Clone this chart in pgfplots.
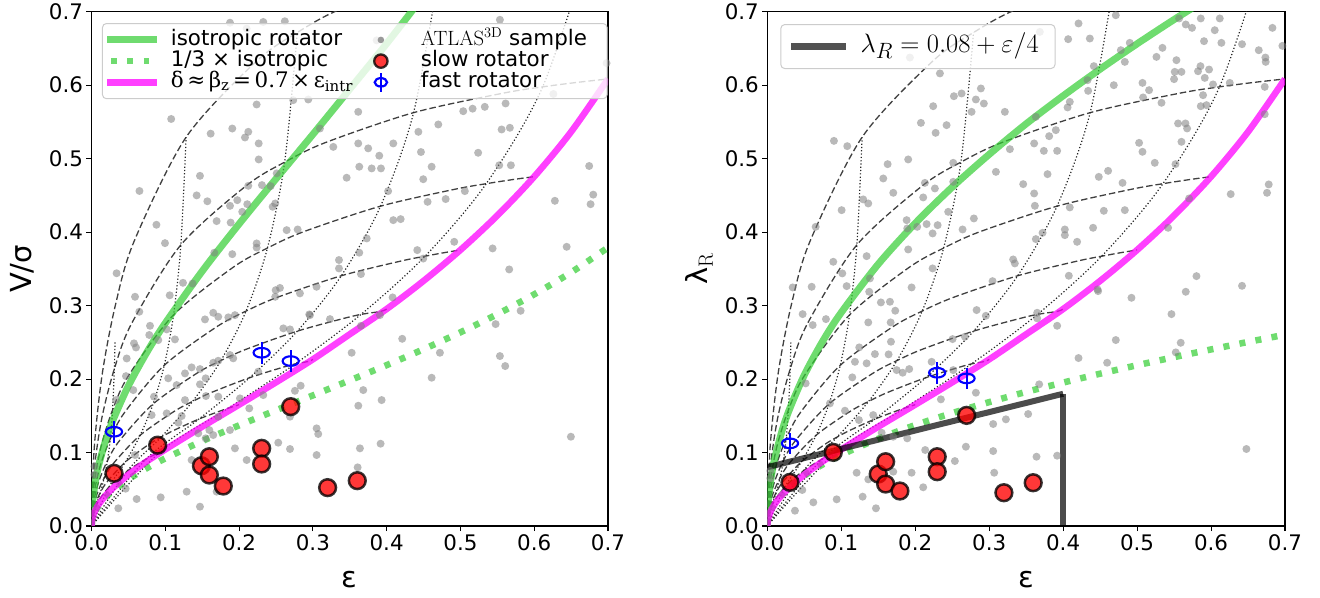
\documentclass[border=0pt]{standalone}
\usepackage[no-math]{fontspec}
\setmainfont{DejaVu Sans}
\newfontfamily\dserif{DejaVu Serif}
\usepackage{graphicx}
\usepackage{pgfplots}
\pgfplotsset{compat=1.18}
\definecolor{isogreen}{RGB}{50,205,50}
\definecolor{mag}{RGB}{255,0,255}
\definecolor{ptgray}{RGB}{128,128,128}

\pgfplotsset{
  myaxis/.style={
    scale only axis, height=514.3bp, anchor=south west,
    xmin=0, xmax=0.7, ymin=0, ymax=0.7,
    xtick={0,0.1,0.2,0.3,0.4,0.5,0.6,0.7},
    ytick={0,0.1,0.2,0.3,0.4,0.5,0.6,0.7},
    xticklabels={0.0,0.1,0.2,0.3,0.4,0.5,0.6,0.7},
    yticklabels={0.0,0.1,0.2,0.3,0.4,0.5,0.6,0.7},
    tick align=outside, tick pos=left, major tick length=5bp,
    every tick/.style={black, line width=1.1bp},
    axis line style={line width=1.1bp},
    ticklabel style={font=\fontsize{21.4bp}{21.4bp}\selectfont},
    label style={font=\fontsize{29bp}{29bp}\selectfont},
    xlabel style={at={(axis description cs:0.5,-0.105)}, anchor=center},
    ylabel style={anchor=center},
    legend cell align=left,
  },
  grayp/.style={ptgray, only marks, mark=*, mark size=4bp, mark options={draw opacity=0, fill=ptgray, fill opacity=0.55}, forget plot},
  dashc/.style={black!75, line width=1.3bp, dash pattern=on 6.5bp off 3bp, smooth, tension=0.5, forget plot},
  dotc/.style={black!85, line width=1.2bp, dash pattern=on 1.2bp off 2.1bp, smooth, tension=0.5, forget plot},
  isoline/.style={isogreen, draw opacity=0.7, line width=7bp, smooth, tension=0.5, forget plot},
  thirdline/.style={isogreen, draw opacity=0.7, line width=6.5bp, dash pattern=on 6bp off 10.3bp, smooth, tension=0.5, forget plot},
  magline/.style={mag, draw opacity=0.75, line width=6.5bp, smooth, tension=0.5, forget plot},
  slowp/.style={only marks, mark=*, mark size=8.4bp, mark options={fill=red, draw=black, line width=2.5bp, opacity=0.78}, forget plot},
  fastp/.style={blue, only marks, mark=o, mark size=4.8bp, mark options={xscale=1.69, line width=2.1bp, blue}, forget plot,
    error bars/.cd, y dir=both, y explicit, error mark=none, error bar style={line width=2bp, blue}},
  blines/.code={
    \addplot[dashc] coordinates {(0,0) (0.003655,0.1054) (0.014578,0.2071) (0.032689,0.3019) (0.057822,0.3877) (0.12822,0.5292) (0.223246,0.6323) (0.27889,0.6717) (0.339203,0.7043) (0.47085,0.7527)};
    \addplot[dashc] coordinates {(0,0) (0.003464,0.0740) (0.013814,0.1459) (0.03096,0.2138) (0.054723,0.2763) (0.12108,0.3826) (0.210059,0.4634) (0.261759,0.4952) (0.317362,0.5220) (0.436529,0.5626) (0.556771,0.5889) (0.611463,0.5977) (0.657458,0.6037) (0.7,0.6085)};
    \addplot[dashc] coordinates {(0,0) (0.003197,0.0543) (0.012744,0.1073) (0.028543,0.1578) (0.050402,0.2050) (0.111181,0.2873) (0.19196,0.3521) (0.238423,0.3783) (0.287911,0.4007) (0.391724,0.4353) (0.491804,0.4582) (0.53495,0.4659) (0.569505,0.4713) (0.6,0.4755)};
    \addplot[dashc] coordinates {(0,0) (0.002854,0.04054) (0.011371,0.08027) (0.025445,0.1185) (0.044874,0.1546) (0.098612,0.2187) (0.169268,0.2709) (0.209431,0.2925) (0.251745,0.3112) (0.338562,0.3406) (0.41885,0.3605) (0.452057,0.3672) (0.477877,0.3720) (0.5,0.3757)};
    \addplot[dashc] coordinates {(0,0) (0.002435,0.03029) (0.009695,0.06008) (0.021672,0.08892) (0.038162,0.1164) (0.083485,0.1661) (0.142349,0.2076) (0.175379,0.2252) (0.209788,0.2406) (0.27889,0.2652) (0.340556,0.2822) (0.365276,0.2880) (0.39197,0.2921) (0.4,0.2953)};
    \addplot[dashc] coordinates {(0,0) (0.00194,0.02222) (0.007718,0.04413) (0.017231,0.06546) (0.030289,0.08595) (0.065923,0.1235) (0.111587,0.1557) (0.136866,0.1695) (0.162909,0.1819) (0.214188,0.2018) (0.258609,0.2158) (0.276007,0.2206) (0.294486,0.2241) (0.3,0.2268)};
    \addplot[dashc] coordinates {(0,0) (0.001369,0.01551) (0.005442,0.03084) (0.012132,0.04583) (0.021283,0.06032) (0.046061,0.08726) (0.077365,0.1108) (0.094461,0.1211) (0.111887,0.1303) (0.1456,0.1456) (0.174098,0.1564) (0.185067,0.1602) (0.193245,0.1629) (0.2,0.1651)};
    \addplot[dashc] coordinates {(0,0) (0.000722,0.009415) (0.002868,0.01874) (0.006384,0.0279) (0.011175,0.0368) (0.024039,0.05352) (0.040054,0.0684) (0.048685,0.0750) (0.057395,0.0810) (0.073987,0.0910) (0.087736,0.0983) (0.092957,0.1009) (0.098398,0.1027) (0.1,0.1042)};
    \addplot[dotc] coordinates {(0,0) (0.006384,0.0279) (0.012132,0.04583) (0.017231,0.06546) (0.021672,0.08892) (0.025445,0.1185) (0.028543,0.1578) (0.03096,0.2138) (0.0319,0.2522)};
    \addplot[dotc] coordinates {(0,0) (0.024039,0.05352) (0.046061,0.08726) (0.065923,0.1235) (0.083485,0.1661) (0.098612,0.2187) (0.111181,0.2873) (0.12108,0.3826) (0.12822,0.5292)};
    \addplot[dotc] coordinates {(0,0) (0.048685,0.0750) (0.094461,0.1211) (0.136866,0.1695) (0.175379,0.2252) (0.209431,0.2925) (0.238423,0.3783) (0.261759,0.4952) (0.27889,0.6717)};
    \addplot[dotc] coordinates {(0,0) (0.073987,0.0910) (0.1456,0.1456) (0.214188,0.2018) (0.27889,0.2652) (0.338562,0.3406) (0.391724,0.4353) (0.436529,0.5626) (0.47085,0.7527)};
    \addplot[dotc] coordinates {(0,0) (0.092957,0.1009) (0.185067,0.1602) (0.276007,0.2206) (0.365276,0.2880) (0.452057,0.3672) (0.53495,0.4659) (0.611463,0.5977) (0.67703,0.7936)};
  },
}

\begin{document}
\begin{tikzpicture}
\useasboundingbox (0bp,0bp) rectangle (1320bp,598bp);

%================ LEFT PANEL ================
\begin{axis}[myaxis, at={(91.5bp,72bp)}, width=516.5bp,
  xlabel={ε}, ylabel={V/σ},
  ylabel style={at={(axis description cs:-0.1336,0.5)}},
  legend columns=2,
  legend style={at={(axis description cs:0.0203,0.978)}, anchor=north west,
    draw=black!20, line width=1bp, rounded corners=4bp, fill=white, fill opacity=0.8, text opacity=1,
    inner xsep=1.2bp, inner ysep=5.8bp, column sep=0bp, row sep=0bp,
    font=\fontsize{21.4bp}{21.4bp}\selectfont,
    nodes={inner sep=0pt, text height=15.7bp, text depth=5.5bp}},
]
\addlegendimage{legend image code/.code={\draw[isogreen, draw opacity=0.7, line width=7bp] (0bp,0bp)--(49.7bp,0bp); \path[draw=none,fill=none] (0bp,0bp)--(63.7bp,0bp);}}
\addlegendentry{\makebox[192bp][l]{isotropic rotator}}
\addlegendimage{legend image code/.code={\path[draw=none,fill=none] (0bp,0bp)--(58bp,0bp); \path[draw=none, fill=black!40, fill opacity=1] (18bp,0bp) circle (3.3bp);}}
\addlegendentry{\makebox[185bp][l]{$\mathrm{ATLAS^{3D}}$ sample}}
\addlegendimage{legend image code/.code={\draw[isogreen, draw opacity=0.7, line width=6bp, dash pattern=on 5.6bp off 10.7bp] (4bp,0bp)--(49.7bp,0bp); \path[draw=none,fill=none] (0bp,0bp)--(63.7bp,0bp);}}
\addlegendentry{\makebox[192bp][l]{1/3 × isotropic}}
\addlegendimage{legend image code/.code={\path[draw=none,fill=none] (0bp,0bp)--(58bp,0bp); \draw[fill=red, draw=black, fill opacity=0.78, draw opacity=0.78, line width=2.3bp] (18bp,0bp) circle (6.7bp);}}
\addlegendentry{\makebox[185bp][l]{slow rotator}}
\addlegendimage{legend image code/.code={\draw[mag, draw opacity=0.75, line width=6.5bp] (0bp,0bp)--(49.7bp,0bp); \path[draw=none,fill=none] (0bp,0bp)--(63.7bp,0bp);}}
\addlegendentry{\makebox[192bp][l]{\dserif δ\,≈\,β\textsubscript{z}\,=\,0.7\,×\,ε\textsubscript{intr}}}
\addlegendimage{legend image code/.code={\path[draw=none,fill=none] (0bp,0bp)--(58bp,0bp); \draw[blue, draw opacity=1, line width=2bp] (18bp,-9.5bp)--(18bp,9.5bp); \draw[blue, draw opacity=1, fill=none, line width=2.2bp] (18bp,0bp) ellipse (6.2bp and 4.2bp);}}
\addlegendentry{\makebox[185bp][l]{fast rotator}}

\addplot[grayp] coordinates {
(0.034,0.344) (0.059,0.312) (0.065,0.456) (0.088,0.410) (0.0996,0.385) (0.108,0.554) (0.106,0.314) (0.124,0.331)
(0.137,0.330) (0.1425,0.450) (0.147,0.4766) (0.157,0.442) (0.1615,0.534) (0.1696,0.415) (0.1664,0.372) (0.1877,0.4358)
(0.1886,0.413) (0.1908,0.541) (0.1908,0.370) (0.1976,0.4435) (0.2043,0.4276) (0.208,0.5288) (0.2125,0.5365) (0.2125,0.463)
(0.2111,0.438) (0.2238,0.5737) (0.2238,0.3846) (0.2238,0.379) (0.2266,0.5207) (0.2266,0.4989) (0.1877,0.685) (0.2103,0.677)
(0.2328,0.686) (0.262,0.687) (0.231,0.464) (0.2428,0.4626) (0.2455,0.4345) (0.249,0.439) (0.251,0.480) (0.2645,0.4027)
(0.2794,0.4036) (0.2554,0.324) (0.2734,0.5796) (0.2938,0.5805) (0.3096,0.541) (0.2825,0.3166) (0.305,0.3256) (0.2496,0.321)
(0.3865,0.661) (0.3615,0.5637) (0.3277,0.516) (0.3615,0.5207) (0.375,0.514) (0.39,0.504) (0.3629,0.489) (0.3797,0.4867)
(0.3923,0.4867) (0.3458,0.474) (0.409,0.5207) (0.402,0.4558) (0.443,0.5365) (0.4465,0.509) (0.461,0.489) (0.4496,0.472)
(0.47,0.5465) (0.5038,0.5646) (0.5165,0.568) (0.533,0.5705) (0.5612,0.5751) (0.524,0.508) (0.5558,0.5397) (0.567,0.542)
(0.5526,0.491) (0.5684,0.491) (0.506,0.4558) (0.4555,0.4412) (0.48,0.445) (0.409,0.4163) (0.419,0.4177) (0.373,0.3914)
(0.4415,0.3755) (0.4496,0.364) (0.3629,0.372) (0.3354,0.362) (0.3354,0.3506) (0.3652,0.3429) (0.4916,0.3868) (0.5436,0.3778)
(0.5661,0.3492) (0.644,0.38) (0.6745,0.490) (0.68,0.451) (0.6764,0.438) (0.628,0.4426) (0.5535,0.689) (0.698,0.63) (0.626,0.588)
(0.0648,0.2916) (0.0576,0.2486) (0.0603,0.243) (0.0793,0.2725) (0.0783,0.26) (0.0905,0.253) (0.1019,0.2676) (0.0467,0.204)
(0.0847,0.176) (0.104,0.201) (0.1154,0.1918) (0.1267,0.1714) (0.1267,0.2077) (0.1357,0.2159) (0.147,0.2136) (0.147,0.1928)
(0.1547,0.201) (0.1551,0.1769) (0.165,0.2222) (0.1718,0.2249) (0.1718,0.176) (0.165,0.2902) (0.1718,0.2848) (0.1538,0.2812)
(0.1854,0.284) (0.1944,0.287) (0.1877,0.2327) (0.1921,0.2282) (0.2012,0.1737) (0.2138,0.1601) (0.2328,0.1782) (0.226,0.21)
(0.249,0.312) (0.26,0.269) (0.269,0.2676) (0.2757,0.184) (0.2835,0.1909) (0.269,0.1488) (0.269,0.1048) (0.2531,0.1134)
(0.3051,0.1329) (0.3073,0.1252) (0.3051,0.0966) (0.2961,0.287) (0.2103,0.0898) (0.1944,0.1057) (0.1877,0.1306) (0.165,0.1238)
(0.1718,0.1487) (0.1696,0.0467) (0.147,0.0263) (0.129,0.0467) (0.0938,0.039) (0.0612,0.0367) (0.0463,0.0508) (0.0363,0.0241)
(0.059,0.0966) (0.004,0.081) (0.004,0.07) (0.1019,0.1533) (0.1222,0.1497) (0.1177,0.1406) (0.1447,0.1261) (0.1597,0.1306)
(0.1547,0.1193) (0.1357,0.0898) (0.0332,0.1714) (0.0566,0.185) (0.0815,0.151) (0.0477,0.228) (0.1131,0.254)
(0.2951,0.288) (0.3232,0.2816) (0.3909,0.287) (0.3652,0.2725) (0.4081,0.3111) (0.4211,0.2548) (0.3526,0.2358) (0.4722,0.2358)
(0.461,0.2018) (0.3683,0.185) (0.3616,0.1637) (0.3932,0.1714) (0.5477,0.2748) (0.5535,0.2313) (0.5607,0.2177) (0.5816,0.2929)
(0.3638,0.1057) (0.3918,0.112) (0.3607,0.0798) (0.6497,0.1215)
};
\pgfplotsset{blines}
\addplot[thirdline] coordinates {(0,0) (0.001,0.0088) (0.002,0.0124) (0.005,0.0197) (0.01,0.0279) (0.02,0.0397) (0.03,0.0488) (0.05,0.0636) (0.075,0.0788) (0.1,0.0920) (0.15,0.1156) (0.2,0.1370) (0.25,0.1575) (0.3,0.1777) (0.35,0.1982) (0.4,0.2189) (0.45,0.2406) (0.5,0.2636) (0.55,0.2883) (0.6,0.3153) (0.65,0.3452) (0.7,0.3790)};
\addplot[isoline] coordinates {(0,0) (0.001,0.0264) (0.002,0.0373) (0.005,0.0591) (0.01,0.0838) (0.02,0.1190) (0.03,0.1463) (0.05,0.1908) (0.075,0.2364) (0.1,0.2761) (0.15,0.3468) (0.2,0.4111) (0.25,0.4725) (0.3,0.5330) (0.35,0.5946) (0.4,0.6566) (0.45,0.7218) (0.5,0.7908)};
\addplot[magline] coordinates {(0,0) (0.001,0.0093) (0.002,0.0132) (0.005,0.02096) (0.01,0.0298) (0.02,0.04254) (0.03,0.05243) (0.05,0.06986) (0.075,0.08796) (0.1,0.1042) (0.15,0.1351) (0.2,0.1651) (0.25,0.1955) (0.3,0.2268) (0.35,0.2610) (0.4,0.2953) (0.45,0.3336) (0.5,0.3757) (0.55,0.4226) (0.6,0.4755) (0.65,0.5365) (0.7,0.6085)};
\addplot[slowp] coordinates {(0.0305,0.0717) (0.0897,0.110) (0.149,0.082) (0.1597,0.0943) (0.1597,0.0694) (0.1786,0.0544) (0.2306,0.1057) (0.2306,0.0844) (0.27,0.1624) (0.32,0.0522) (0.3602,0.0617)};
\addplot[fastp] coordinates {(0.0305,0.1283) +- (0,0.0147) (0.2306,0.2358) +- (0,0.0147) (0.27,0.2245) +- (0,0.0147)};
\end{axis}

%================ RIGHT PANEL ================
\begin{axis}[myaxis, at={(767.3bp,72bp)}, width=517.7bp,
  xlabel={ε}, ylabel={λ$_{\mathrm{R}}$},
  ylabel style={at={(axis description cs:-0.132,0.5)}},
  legend style={at={(axis description cs:0.0251,0.976)}, anchor=north west,
    draw=black!20, line width=1bp, rounded corners=4bp, fill=white, fill opacity=0.8, text opacity=1,
    inner xsep=6.7bp, inner ysep=9bp,
    font=\fontsize{24.88pt}{26.7bp}\selectfont,
    nodes={inner sep=0pt, text height=19bp, text depth=7bp}},
]
\addlegendimage{legend image code/.code={\draw[black, draw opacity=0.68, line width=7bp] (0bp,0bp)--(55bp,0bp); \path[draw=none,fill=none] (0bp,0bp)--(69.7bp,0bp);}}
\addlegendentry{\makebox[187.6bp][l]{\scalebox{1.07}{$\lambda_R = 0.08 + \varepsilon/4$}}}

\addplot[grayp] coordinates {
(0.1928,0.6376) (0.2334,0.616) (0.2077,0.5487) (0.2243,0.5714) (0.2276,0.5351) (0.2424,0.5456) (0.2523,0.585) (0.2627,0.5887)
(0.2762,0.5637) (0.282,0.5805) (0.2888,0.5955) (0.2928,0.575) (0.0901,0.5242) (0.1081,0.517) (0.0654,0.4072) (0.1005,0.4299)
(0.0892,0.3596) (0.1014,0.3438) (0.1073,0.3265) (0.06,0.3256) (0.0343,0.3247) (0.1297,0.4445) (0.1365,0.439) (0.1568,0.473)
(0.1627,0.4925) (0.1703,0.4535) (0.1905,0.4989) (0.2131,0.467) (0.2108,0.4472) (0.2266,0.4594) (0.2514,0.4943) (0.2514,0.4684)
(0.1884,0.4163) (0.1892,0.405) (0.2027,0.4072) (0.2154,0.4109) (0.2235,0.3982) (0.2303,0.4095) (0.2446,0.4276) (0.264,0.4036)
(0.2793,0.4186) (0.1905,0.3764) (0.2235,0.3506) (0.1951,0.3247) (0.1343,0.3673) (0.1388,0.337) (0.1378,0.3188)
(0.4712,0.6952) (0.4208,0.684) (0.4068,0.6626) (0.4361,0.6635) (0.3685,0.6725) (0.478,0.6476) (0.4901,0.6576) (0.4834,0.6317)
(0.4415,0.6259) (0.433,0.6068) (0.4338,0.5923) (0.409,0.5773) (0.406,0.5697) (0.3212,0.5637) (0.3631,0.5569) (0.3901,0.5388)
(0.3811,0.5306) (0.328,0.5129) (0.3608,0.5207) (0.3739,0.5106) (0.3919,0.5106) (0.3091,0.482) (0.346,0.4653) (0.3789,0.4789)
(0.3608,0.4526) (0.3618,0.4358) (0.3722,0.399) (0.3631,0.3905) (0.409,0.4336) (0.4023,0.4036) (0.4023,0.3959) (0.4189,0.3868)
(0.4405,0.4059) (0.4482,0.4752) (0.4608,0.4834) (0.455,0.429) (0.4834,0.4299) (0.4803,0.467) (0.4685,0.6) (0.5073,0.6031)
(0.5162,0.5932) (0.5081,0.5833) (0.533,0.576) (0.5027,0.5215) (0.5073,0.5093) (0.5239,0.4943) (0.5262,0.6385) (0.5343,0.6508)
(0.55,0.6082) (0.5509,0.6181) (0.56,0.6181) (0.5532,0.634) (0.5568,0.6908) (0.5658,0.6826) (0.5861,0.6908) (0.5743,0.678)
(0.5824,0.619) (0.5857,0.6259) (0.5973,0.6213) (0.5905,0.6599) (0.5915,0.6099) (0.5892,0.5864) (0.5861,0.5714) (0.5938,0.5728)
(0.6027,0.601) (0.6118,0.6908) (0.605,0.6748) (0.614,0.6576) (0.6253,0.6031) (0.6419,0.6558) (0.6645,0.6476) (0.6735,0.6376)
(0.6739,0.6317) (0.683,0.678) (0.6965,0.6535) (0.6726,0.5977) (0.6726,0.5605) (0.678,0.4649) (0.6757,0.4535) (0.6266,0.4517)
(0.5803,0.3401) (0.5658,0.3188) (0.6419,0.3269) (0.5419,0.4059) (0.5703,0.4458) (0.5554,0.5479) (0.5654,0.5479) (0.5676,0.5411)
(0.56,0.5229) (0.5519,0.4925) (0.3324,0.3628) (0.3347,0.3574) (0.3046,0.3333) (0.4077,0.3406) (0.4465,0.322) (0.4924,0.3106)
(0.0478,0.2884) (0.0614,0.2735) (0.0793,0.2816) (0.1536,0.3043) (0.1658,0.3052) (0.173,0.293) (0.1365,0.2771) (0.1668,0.2771)
(0.1185,0.2235) (0.1149,0.2023) (0.1343,0.2214) (0.1455,0.234) (0.164,0.2336) (0.1672,0.2508) (0.1243,0.2431) (0.1749,0.2122)
(0.183,0.2086) (0.1919,0.2136) (0.0847,0.1669) (0.105,0.1569) (0.1239,0.1442) (0.0519,0.1941) (0.1432,0.151) (0.1546,0.1269)
(0.1703,0.1215) (0.1892,0.1193) (0.2347,0.1724) (0.282,0.1814) (0.2685,0.1079) (0.2536,0.0884) (0.2135,0.1034) (0.2108,0.0527)
(0.1951,0.0725) (0.1703,0.0739) (0.1208,0.0725) (0.1289,0.0399) (0.1469,0.0241) (0.0938,0.0363) (0.0622,0.0322) (0.0473,0.049)
(0.0374,0.0208) (0.1365,0.0635) (0.2514,0.2122) (0.2222,0.2235) (0.2672,0.2576) (0.2505,0.2544) (0.283,0.2939) (0.004,0.065) (0.004,0.075)
(0.2955,0.2861) (0.3649,0.2902) (0.3649,0.2826) (0.3919,0.2725) (0.4473,0.3197) (0.5465,0.2884) (0.559,0.2494) (0.5523,0.2363)
(0.4712,0.2531) (0.4595,0.2222) (0.4208,0.2286) (0.3676,0.1928) (0.3527,0.1524) (0.3226,0.1452) (0.3054,0.1388) (0.3054,0.102)
(0.3068,0.0725) (0.364,0.0943) (0.3919,0.0957) (0.6478,0.1048)
};
\pgfplotsset{blines}
\addplot[thirdline] coordinates {(0,0) (0.001,0.0097) (0.002,0.0137) (0.005,0.0216) (0.01,0.0306) (0.02,0.0433) (0.03,0.0530) (0.05,0.0685) (0.075,0.0839) (0.1,0.0969) (0.15,0.1188) (0.2,0.1373) (0.25,0.1537) (0.3,0.1686) (0.35,0.1825) (0.4,0.1952) (0.45,0.2073) (0.5,0.2188) (0.55,0.2298) (0.6,0.2403) (0.65,0.2505) (0.7,0.2604)};
\addplot[isoline] coordinates {(0,0) (0.001,0.0290) (0.002,0.0410) (0.005,0.0649) (0.01,0.0918) (0.02,0.1298) (0.03,0.1589) (0.05,0.2054) (0.075,0.2517) (0.1,0.2906) (0.15,0.3564) (0.2,0.4120) (0.25,0.4612) (0.3,0.5058) (0.35,0.5474) (0.4,0.5855) (0.45,0.6218) (0.5,0.6563) (0.55,0.6893) (0.6,0.7210)};
\addplot[magline] coordinates {(0,0) (0.001,0.0093) (0.002,0.0132) (0.005,0.02096) (0.01,0.0298) (0.02,0.04254) (0.03,0.05243) (0.05,0.06986) (0.075,0.08796) (0.1,0.1042) (0.15,0.1351) (0.2,0.1651) (0.25,0.1955) (0.3,0.2268) (0.35,0.2610) (0.4,0.2953) (0.45,0.3336) (0.5,0.3757) (0.55,0.4226) (0.6,0.4755) (0.65,0.5365) (0.7,0.6085)};
\addplot[black, draw opacity=0.7, line width=6bp, forget plot] coordinates {(0,0.08) (0.4,0.18)};
\addplot[black, draw opacity=0.7, line width=6bp, forget plot] coordinates {(0.4,0.18) (0.4,0)};
\addplot[slowp] coordinates {(0.0307,0.0594) (0.0892,0.1002) (0.15,0.0707) (0.16,0.0875) (0.16,0.0571) (0.1793,0.0476) (0.2297,0.0943) (0.2297,0.0739) (0.2695,0.1506) (0.3199,0.0453) (0.3595,0.0589)};
\addplot[fastp] coordinates {(0.0307,0.1125) +- (0,0.0147) (0.2297,0.2086) +- (0,0.0147) (0.2694,0.2009) +- (0,0.0147)};
\end{axis}
\end{tikzpicture}
\end{document}
